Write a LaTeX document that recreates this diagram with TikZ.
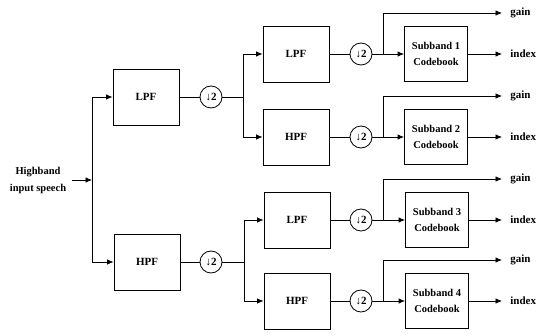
\documentclass[tikz,border=0pt]{standalone}
\usepackage{fontspec}
\setmainfont{Liberation Serif}
\usetikzlibrary{positioning, arrows.meta}

\begin{document}
\begin{tikzpicture}[x=1pt, y=-1pt, line width=0.8pt,
      filt/.style={draw, minimum width=66pt, minimum height=56pt, font=\fontsize{11}{13}\selectfont\bfseries},
      cbook/.style={draw, align=center, minimum width=63pt, minimum height=55pt, font=\fontsize{10.5}{16}\selectfont\bfseries},
      dec/.style={draw, circle, minimum size=22pt, inner sep=0pt, font=\fontsize{11}{13}\selectfont\bfseries},
      lbl/.style={anchor=west, inner xsep=8pt, font=\fontsize{11}{13}\selectfont\bfseries},
      arr/.style={-{Latex[length=6.5pt, width=5.5pt]}},
      every edge/.style={draw, arr}
    ]
    \useasboundingbox (0,0) rectangle (540,336);

    \node[align=center, inner xsep=5pt, font=\fontsize{10.5}{17}\selectfont\bfseries] (in) at (38,180) {Highband\\input speech};
    \coordinate (jn) at (92,180);

    % first split
    \node[filt] (lpf) at (146,97) {LPF};
    \node[filt] (hpf) at (147,262) {HPF};
    \node[dec] (dlo) at (211,97) {↓2};
    \node[dec] (dhi) at (211,262) {↓2};
    \coordinate (slo) at (243,97);
    \coordinate (shi) at (244,262);

    % second split
    \node[filt] (lpfa) at (296,54) {LPF};
    \node[filt] (hpfa) at (296,137) {HPF};
    \node[filt] (lpfb) at (297,220) {LPF};
    \node[filt] (hpfb) at (297,301) {HPF};
    \node[dec] (da) at (361,54) {↓2};
    \node[dec] (db) at (361,137) {↓2};
    \node[dec] (dc) at (361,220) {↓2};
    \node[dec] (dd) at (361,301) {↓2};
    \coordinate (sa) at (383,54);
    \coordinate (sb) at (383,137);
    \coordinate (sc) at (383,220);
    \coordinate (sd) at (383,301);

    \node[cbook] (cb1) at (436,54) {Subband 1\\Codebook};
    \node[cbook] (cb2) at (436,137) {Subband 2\\Codebook};
    \node[cbook] (cb3) at (437,220) {Subband 3\\Codebook};
    \node[cbook] (cb4) at (437,301) {Subband 4\\Codebook};

    \node[lbl] (g1) at (502,13) {gain};
    \node[lbl] (g2) at (502,96) {gain};
    \node[lbl] (g3) at (502,179) {gain};
    \node[lbl] (g4) at (502,260) {gain};
    \node[lbl] (x1) at (502,54) {index};
    \node[lbl] (x2) at (502,137) {index};
    \node[lbl] (x3) at (502,220) {index};
    \node[lbl] (x4) at (502,301) {index};

    \draw (in) edge (jn);
    \draw[arr] (jn) |- (lpf);
    \draw[arr] (jn) |- (hpf);
    \draw (lpf) -- (dlo) -- (slo);
    \draw (hpf) -- (dhi) -- (shi);
    \draw[arr] (slo) |- (lpfa);
    \draw[arr] (slo) |- (hpfa);
    \draw[arr] (shi) |- (lpfb);
    \draw[arr] (shi) |- (hpfb);

    \draw (lpfa) -- (da) -- (sa);
    \draw (hpfa) -- (db) -- (sb);
    \draw (lpfb) -- (dc) -- (sc);
    \draw (hpfb) -- (dd) -- (sd);

    \draw (sa) edge (cb1);
    \draw (sb) edge (cb2);
    \draw (sc) edge (cb3);
    \draw (sd) edge (cb4);
    \draw[arr] (sa) |- (g1);
    \draw[arr] (sb) |- (g2);
    \draw[arr] (sc) |- (g3);
    \draw[arr] (sd) |- (g4);
    \draw (cb1) edge (x1);
    \draw (cb2) edge (x2);
    \draw (cb3) edge (x3);
    \draw (cb4) edge (x4);
  \end{tikzpicture}
\end{document}
